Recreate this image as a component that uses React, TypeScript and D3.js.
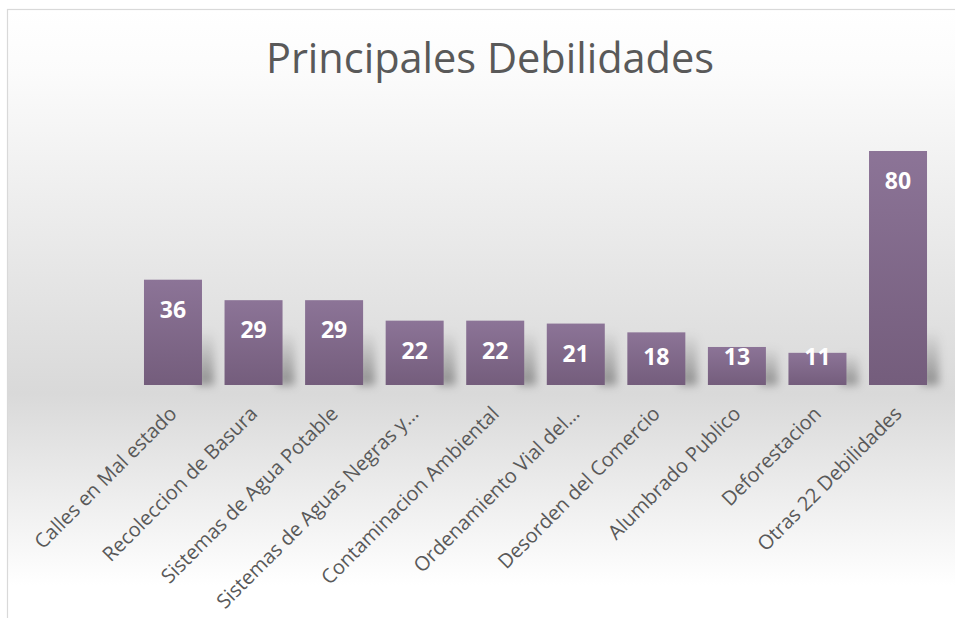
import * as d3 from 'd3';

const categories = [
  'Calles en Mal estado',
  'Recoleccion de Basura',
  'Sistemas de Agua Potable',
  'Sistemas de Aguas Negras y…',
  'Contaminacion Ambiental',
  'Ordenamiento Vial del…',
  'Desorden del Comercio',
  'Alumbrado Publico',
  'Deforestacion',
  'Otras 22 Debilidades',
];
const values = [36, 29, 29, 22, 22, 21, 18, 13, 11, 80];
const title = 'Principales Debilidades';

const W = 955;
const H = 618;

export default function App() {
  // scales
  const x = d3.scaleBand<string>().domain(categories).range([132.7, 938.3]).paddingInner(0.28).paddingOuter(0.14);
  const y = d3.scaleLinear().domain([0, 80]).range([385, 151]);
  const base = y(0);

  return (
    <svg width={W} height={H} style={{ position: 'absolute', left: 0, top: 0, display: 'block' }}>
      <defs>
        <linearGradient id="bg" x1="0" y1="0" x2="0" y2="1">
          <stop offset="0" stopColor="#ffffff" />
          <stop offset="0.1" stopColor="#fbfbfb" />
          <stop offset="0.6" stopColor="#d9d9d9" />
          <stop offset="0.9" stopColor="#ffffff" />
          <stop offset="1" stopColor="#ffffff" />
        </linearGradient>
        <linearGradient id="bar" x1="0" y1="0" x2="0" y2="1">
          <stop offset="0" stopColor="#8c7497" />
          <stop offset="1" stopColor="#745d7c" />
        </linearGradient>
        <linearGradient id="shade" x1="0" y1="0" x2="0" y2="1">
          <stop offset="0" stopColor="#000" stopOpacity="0" />
          <stop offset="1" stopColor="#000" stopOpacity="0.35" />
        </linearGradient>
        <filter id="blur" x="-50%" y="-50%" width="200%" height="200%">
          <feGaussianBlur stdDeviation="4" />
        </filter>
      </defs>

      <rect x={7.5} y={9.5} width={960} height={640} fill="url(#bg)" stroke="#d9d9d9" strokeWidth={1.2} />

      <text
        x={490}
        y={73}
        textAnchor="middle"
        fontFamily="'Open Sans', sans-serif"
        fontSize={41.5}
        fill="#595959"
      >
        {title}
      </text>

      {/* soft shadows behind the bars */}
      {values.map((v, i) => {
        const bx = x(categories[i])! + x.bandwidth();
        const sh = Math.min(base - y(v), 55);
        return (
          <rect
            key={'s' + i}
            x={bx - 6}
            y={base - sh}
            width={18}
            height={sh}
            fill="url(#shade)"
            filter="url(#blur)"
          />
        );
      })}

      {values.map((v, i) => (
        <rect
          key={'b' + i}
          x={x(categories[i])}
          y={y(v)}
          width={x.bandwidth()}
          height={base - y(v)}
          fill="url(#bar)"
        />
      ))}

      {values.map((v, i) => (
        <text
          key={'l' + i}
          x={x(categories[i])! + x.bandwidth() / 2}
          y={Math.min(y(v) + 38, base - 20)}
          textAnchor="middle"
          fontFamily="'Open Sans', sans-serif"
          fontWeight="bold"
          fontSize={23}
          fill="#ffffff"
        >
          {v}
        </text>
      ))}

      {categories.map((c, i) => {
        const cx = x(c)! + x.bandwidth() / 2;
        return (
          <text
            key={'c' + i}
            transform={`translate(${cx + 5},${base + 30}) rotate(-45)`}
            textAnchor="end"
            fontFamily="'Open Sans', sans-serif"
            fontSize={20}
            fill="#595959"
          >
            {c}
          </text>
        );
      })}
    </svg>
  );
}
